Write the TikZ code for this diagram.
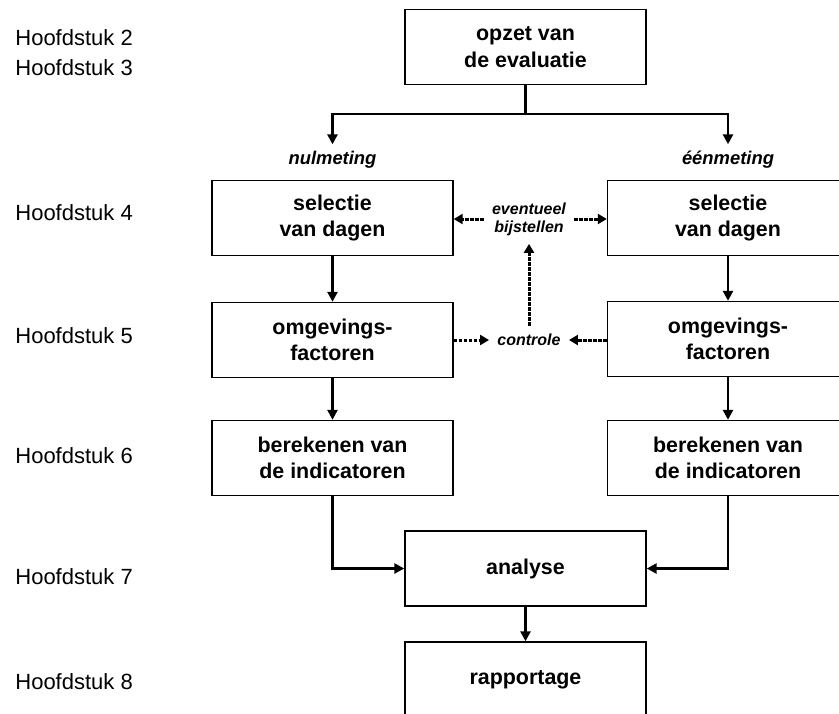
\documentclass[tikz,border=0pt]{standalone}
\usepackage{fontspec}
\setmainfont{Liberation Sans}
\usetikzlibrary{arrows.meta}

\begin{document}
\begin{tikzpicture}[x=0.5pt,y=-0.5pt,
    box/.style={draw,line width=0.7pt,minimum width=120.5pt,minimum height=37.5pt,align=center,inner sep=0pt,font=\fontsize{10.7}{13.3}\selectfont\bfseries},
    flow/.style={line width=1.35pt,-{Triangle[length=5pt,width=5pt]}},
    dots/.style={line width=1.5pt,dash pattern=on 1.8pt off 0.7pt,-{Triangle[length=4.5pt,width=5pt]}},
    meting/.style={font=\fontsize{9.2}{11}\selectfont\bfseries\itshape},
    note/.style={align=center,inner sep=4pt,font=\fontsize{8}{9}\selectfont\bfseries\itshape}]
    \useasboundingbox (0,0) rectangle (839,713);

    \foreach \h/\y in {2/38,3/68,4/213,5/336,6/456,7/577,8/682}
        \node[anchor=west,inner sep=0pt,font=\fontsize{11}{13}\selectfont] (H\h) at (15,\y) {Hoofdstuk \h};

    \node[box] (opzet) at (525.5,47) {opzet van\\de evaluatie};
    \node[meting] (nul) at (332.5,160) {nulmeting};
    \node[meting] (een) at (728,160) {éénmeting};

    \node[box] (selL) at (332.5,218) {selectie\\van dagen};
    \node[box] (selR) at (728,218) {selectie\\van dagen};
    \node[box] (omgL) at (332.5,340) {omgevings-\\factoren};
    \node[box] (omgR) at (728,339) {omgevings-\\factoren};
    \node[box] (berL) at (332.5,458) {berekenen van\\de indicatoren};
    \node[box] (berR) at (728,458) {berekenen van\\de indicatoren};
    \node[box] (analyse) at (525.5,568.5) {analyse};
    \node[box] (rapport) at (525.5,679.5) {rapportage};

    \node[note] (adj) at (529,219) {eventueel\\bijstellen};
    \node[note] (ctrl) at (529,340) {controle};

    % tak naar beide metingen
    \coordinate (split) at (525.5,114);
    \draw[line width=1.35pt] (opzet.south) -- (split);
    \draw[flow] (split) -| (nul.north);
    \draw[flow] (split) -| (een.north);

    \draw[flow] (selL) -- (omgL);
    \draw[flow] (selR) -- (omgR);
    \draw[flow] (omgL) -- (berL);
    \draw[flow] (omgR) -- (berR);
    \draw[flow] (berL.south) |- (analyse.west);
    \draw[flow] (berR.south) |- (analyse.east);
    \draw[flow] (analyse) -- (rapport);

    % terugkoppeling
    \draw[dots] (omgL.east) -- (omgL.east -| ctrl.west);
    \draw[dots] (omgR.west |- ctrl.east) -- (ctrl.east);
    \draw[dots] (ctrl.north) -- (adj.south);
    \draw[dots] (adj.west) -- (adj.west -| selL.east);
    \draw[dots] (adj.east) -- (adj.east -| selR.west);
\end{tikzpicture}
\end{document}
